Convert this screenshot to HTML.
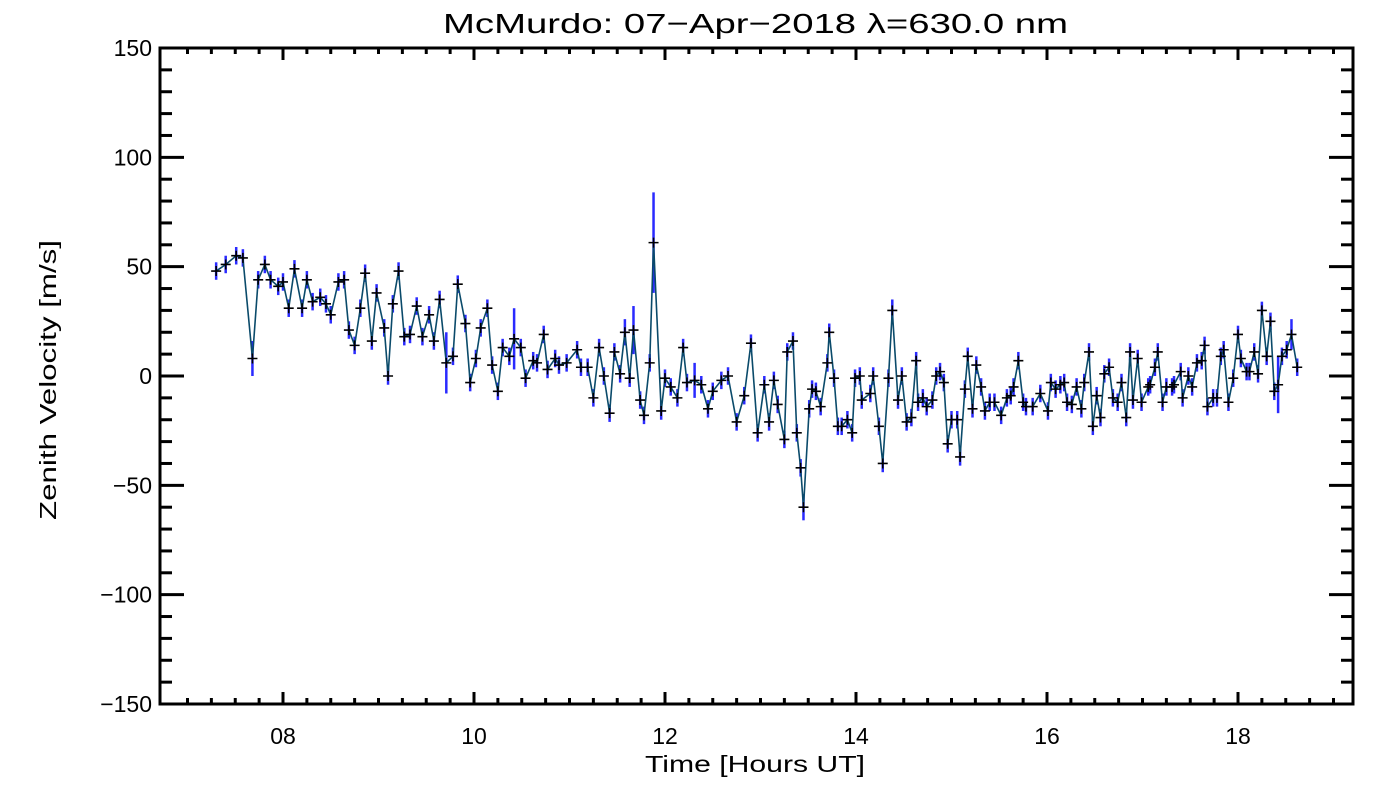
<!DOCTYPE html>
<html><head><meta charset="utf-8"><style>
html,body{margin:0;padding:0;background:#fff;}
svg{display:block;font-family:"Liberation Sans",sans-serif;}
</style></head><body>
<svg id="chart" width="1400" height="800" viewBox="0 0 1400 800"></svg>
<script>
const times=[7.30,7.40,7.51,7.58,7.68,7.74,7.81,7.87,7.95,8.00,8.06,8.12,8.20,8.25,8.31,8.39,8.45,8.50,8.58,8.64,8.69,8.75,8.81,8.86,8.93,8.98,9.06,9.10,9.15,9.21,9.27,9.33,9.40,9.46,9.53,9.58,9.64,9.71,9.78,9.83,9.91,9.96,10.02,10.07,10.14,10.19,10.25,10.30,10.37,10.42,10.49,10.54,10.62,10.66,10.73,10.77,10.85,10.89,10.97,11.08,11.12,11.19,11.25,11.31,11.36,11.42,11.47,11.53,11.58,11.63,11.67,11.74,11.78,11.84,11.88,11.96,12.00,12.06,12.13,12.19,12.23,12.31,12.38,12.45,12.50,12.59,12.66,12.75,12.83,12.90,12.97,13.04,13.09,13.14,13.18,13.25,13.28,13.34,13.38,13.42,13.45,13.51,13.54,13.58,13.63,13.70,13.72,13.77,13.81,13.85,13.91,13.96,13.99,14.04,14.06,14.15,14.18,14.24,14.28,14.34,14.38,14.44,14.48,14.53,14.58,14.63,14.65,14.70,14.74,14.80,14.84,14.88,14.92,14.96,15.00,15.06,15.09,15.14,15.17,15.22,15.26,15.31,15.35,15.40,15.45,15.52,15.58,15.62,15.65,15.70,15.75,15.78,15.85,15.93,16.01,16.04,16.09,16.14,16.18,16.21,16.26,16.31,16.36,16.39,16.44,16.48,16.52,16.56,16.60,16.65,16.69,16.74,16.78,16.83,16.87,16.90,16.95,16.99,17.06,17.08,17.13,17.16,17.21,17.25,17.31,17.33,17.40,17.42,17.48,17.52,17.57,17.62,17.65,17.68,17.74,17.78,17.82,17.85,17.90,17.95,18.00,18.03,18.09,18.12,18.17,18.21,18.25,18.30,18.34,18.38,18.42,18.46,18.51,18.56,18.62];
const velocity=[48,51,55,54,8,44,51,44,41,43,31,49,31,44,34,36,33,28,43,44,21,14,31,47,16,38,22,0,33,48,18,19,32,18,28,16,35,6,9,42,24,-3,8,22,31,5,-7,13,9,17,13,-1,7,6,19,3,8,5,6,12,4,4,-10,13,0,-17,11,1,20,-1,21,-11,-18,6,61,-16,-1,-5,-10,13,-3,-2,-4,-15,-7,-2,0,-21,-9,15,-26,-4,-21,-2,-13,-29,11,16,-26,-42,-60,-15,-6,-7,-14,6,20,-1,-23,-23,-20,-26,-1,0,-11,-8,0,-23,-40,-1,30,-11,0,-21,-19,7,-12,-10,-14,-11,0,2,-3,-31,-20,-20,-37,-6,9,-15,5,-5,-16,-12,-12,-18,-10,-9,-5,7,-12,-14,-14,-8,-16,-3,-6,-4,-3,-12,-13,-5,-15,-3,11,-23,-9,-19,1,4,-10,-12,-3,-19,11,-11,8,-12,-5,-4,4,11,-12,-5,-5,-4,2,-10,0,-5,6,7,14,-14,-10,-10,9,12,-12,-1,19,8,2,2,11,1,30,9,25,-7,-4,9,12,19,4];
const errors=[4,4,4,4,8,4,4,4,4,4,4,4,4,4,4,4,4,4,4,4,4,4,4,4,4,4,4,4,4,4,4,4,4,4,4,4,4,14,4,4,4,4,4,4,4,4,4,4,4,14,4,4,4,4,4,4,4,4,4,4,4,4,4,4,4,4,4,4,6,4,11,4,4,4,23,4,4,4,4,4,4,8,4,4,4,4,4,4,4,4,4,4,4,4,4,4,4,4,4,4,6,4,4,4,4,4,4,4,4,4,4,4,4,4,4,4,4,4,4,4,5,4,4,4,4,4,4,4,4,4,4,4,4,4,4,4,4,4,4,4,4,4,4,4,4,4,4,4,4,4,4,4,4,4,4,4,4,4,4,4,4,4,4,4,4,4,4,4,4,4,4,4,4,4,4,4,4,4,4,4,4,4,4,4,4,4,4,4,4,4,4,4,4,4,4,4,4,4,4,4,4,4,4,4,4,4,4,4,4,4,13,4,4,7,4,4,4,4,4,4,4,4];
const yTicks=[-150,-100,-50,0,50,100,150];
const xTicks=[8,10,12,14,16,18];
const xTickLabels=["08","10","12","14","16","18"];

const L=160,R=1353,T=48,B=704;
const xMin=8-(283-160)/95.5, xMax=18+(1353-1238)/95.5;
const yMin=-150,yMax=150;
const sx=v=>L+(v-xMin)/(xMax-xMin)*(R-L);
const sy=v=>B-(v-yMin)/(yMax-yMin)*(B-T);
const svg=document.getElementById('chart');
const NS='http://www.w3.org/2000/svg';
function mk(tag,attrs,parent){const e=document.createElementNS(NS,tag);for(const k in attrs)e.setAttribute(k,attrs[k]);(parent||svg).appendChild(e);return e;}

// title & labels
let t=mk('text',{x:443,y:33,'font-size':28,textLength:625,lengthAdjust:'spacingAndGlyphs'});
t.textContent='McMurdo: 07\u2212Apr\u22122018 \u03bb=630.0 nm';


t=mk('text',{x:0,y:0,'font-size':23,textLength:280,lengthAdjust:'spacingAndGlyphs',transform:'translate(56,520) rotate(-90)'});
t.textContent='Zenith Velocity [m/s]';


t=mk('text',{x:645,y:772,'font-size':23,textLength:220,lengthAdjust:'spacingAndGlyphs'});
t.textContent='Time [Hours UT]';



// ticks
const tg=mk('g',{stroke:'#000','stroke-width':3});


for(let v=yMin;v<=yMax;v+=10){
  const major=v%50===0, len=major?24:12, y=sy(v);
  mk('line',{x1:L,x2:L+len,y1:y,y2:y},tg);
  mk('line',{x1:R,x2:R-len,y1:y,y2:y},tg);
}
for(let h=7;h<=19.01;h+=0.25){
  const x=sx(h); if(x<L||x>R)continue;
  const major=Math.abs(h-Math.round(h))<1e-6&&Math.round(h)%2===0, len=major?12:6;
  mk('line',{x1:x,x2:x,y1:B,y2:B-len},tg);
  mk('line',{x1:x,x2:x,y1:T,y2:T+len},tg);
}
yTicks.forEach(v=>{
  const e=mk('text',{x:L-8,y:sy(v)+8,'text-anchor':'end','font-size':23});
  e.textContent=(v<0?'\u2212':'')+Math.abs(v);
  
  
});
xTicks.forEach((v,i)=>{
  const e=mk('text',{x:sx(v),y:B+40,'text-anchor':'middle','font-size':23});
  e.textContent=xTickLabels[i];
  
  
});

// error bars
const eg=mk('g',{stroke:'#2a2aff','stroke-width':2.5});


times.forEach((h,i)=>{
  const x=sx(h);
  const e=mk('line',{x1:x,x2:x,y1:sy(velocity[i]-errors[i]),y2:sy(velocity[i]+errors[i])},eg);
  
  
});
// line
const pl=mk('polyline',{fill:'none',stroke:'#0a4a6a','stroke-width':1.6,points:times.map((h,i)=>sx(h)+','+sy(velocity[i])).join(' ')});


// markers
const mg=mk('g',{stroke:'#000','stroke-width':1.6});


times.forEach((h,i)=>{
  const x=sx(h),y=sy(velocity[i]);
  const p=mk('path',{d:`M${x-5},${y}H${x+5}M${x},${y-5}V${y+5}`},mg);
  
  
});
// frame
const fr=mk('rect',{x:L,y:T,width:R-L,height:B-T,fill:'none',stroke:'#000','stroke-width':3});


</script>
</body></html>
